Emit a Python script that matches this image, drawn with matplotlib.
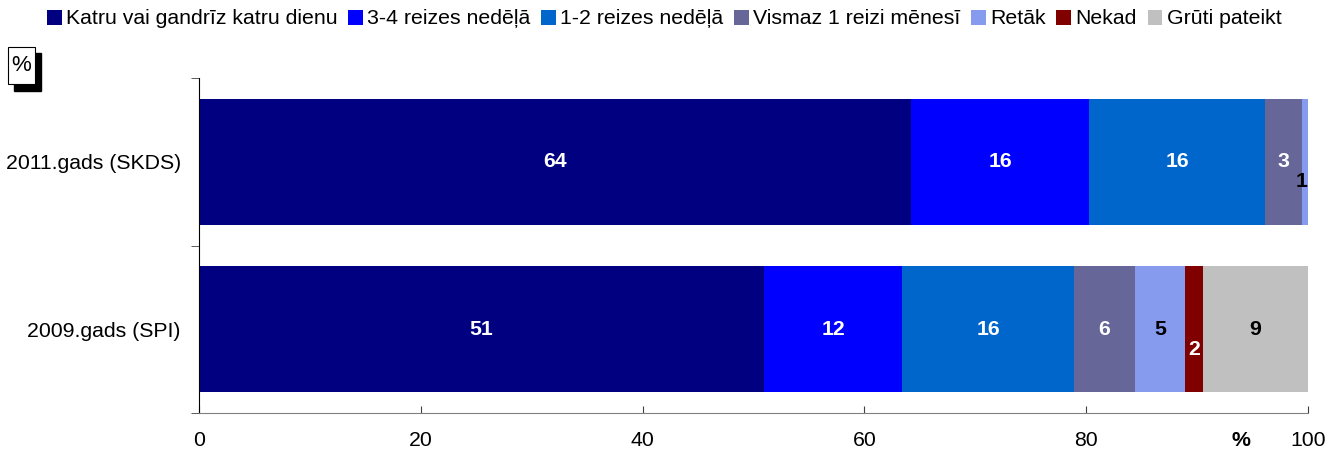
import numpy as np
import matplotlib.pyplot as plt
from matplotlib.patches import Rectangle, Patch

plt.rcParams['font.family'] = ['Liberation Sans', 'DejaVu Sans']

# data
years = ['2009.gads (SPI)', '2011.gads (SKDS)']
series = ['Katru vai gandrīz katru dienu', '3-4 reizes nedēļā', '1-2 reizes nedēļā',
          'Vismaz 1 reizi mēnesī', 'Retāk', 'Nekad', 'Grūti pateikt']
vals_2009 = [50.95, 12.45, 15.5, 5.5, 4.5, 1.6, 9.5]
vals_2011 = [64.2, 16.05, 15.9, 3.3, 0.55, 0.0, 0.0]
lab_2009 = ['51', '12', '16', '6', '5', '2', '9']
lab_2011 = ['64', '16', '16', '3', '1', '', '']
colors = ['#000080', '#0000FF', '#0066CC', '#666699', '#879BEE', '#800000', '#C0C0C0']
txtcol = ['white', 'white', 'white', 'white', 'black', 'white', 'black']

vals = np.array([vals_2009, vals_2011])
labs = [lab_2009, lab_2011]
fs = 15.3

fig = plt.figure(figsize=(13.43, 4.59), dpi=100)
ax = fig.add_axes([199/1343, 46/459, 1109/1343, 335/459])

y = np.arange(len(years))
left = np.zeros(len(years))
for j in range(len(series)):
    ax.barh(y, vals[:, j], left=left, height=0.75, color=colors[j], label=series[j])
    for i in range(len(years)):
        if labs[i][j] == '':
            continue
        cx = left[i] + vals[i, j] / 2
        cy = y[i]
        # small segments get their label pushed down
        if vals[i, j] < 2:
            cy = y[i] - 0.12
            if vals[i, j] < 1:
                cx = left[i] + vals[i, j] - 0.6
        ax.text(cx, cy, labs[i][j], ha='center', va='center', fontsize=fs,
                fontweight='bold', color=txtcol[j])
    left += vals[:, j]

ax.set_xlim(0, 100)
ax.set_ylim(-0.5, 1.5)
ax.set_xticks([0, 20, 40, 60, 80, 100])
ax.tick_params(axis='x', direction='in', length=5, color='#404040', labelsize=fs, pad=13)
ax.set_yticks(y)
ax.set_yticklabels(years)
ax.set_yticks([-0.5, 0.5, 1.5], minor=True)
ax.tick_params(axis='y', which='major', length=0, labelsize=fs, pad=13)
ax.tick_params(axis='y', which='minor', length=5.5, color='#404040')
ax.spines['top'].set_visible(False)
ax.spines['right'].set_visible(False)
ax.spines['bottom'].set_color('#808080')
ax.spines['left'].set_color('black')

fig.text(1241/1343, 1 - 441/459, '%', ha='center', va='center', fontsize=fs, fontweight='bold')

# "%" box with shadow
fig.patches.append(Rectangle((14/1343, 1 - 91/459), 27/1343, 38/459, transform=fig.transFigure,
                             facecolor='black', edgecolor='black'))
fig.patches.append(Rectangle((8/1343, 1 - 84/459), 27/1343, 37/459, transform=fig.transFigure,
                             facecolor='white', edgecolor='black', lw=0.8))
fig.text(21.5/1343, 1 - 66/459, '%', ha='center', va='center', fontsize=16)

handles = [Patch(facecolor=c) for c in colors]
fig.legend(handles, series, loc='center', bbox_to_anchor=(664/1343, 1 - 19/459), ncol=7,
           frameon=False, fontsize=fs, handlelength=0.7, handleheight=0.7,
           handletextpad=0.2, columnspacing=0.5, borderaxespad=0)

plt.savefig('out.png', dpi=100)
